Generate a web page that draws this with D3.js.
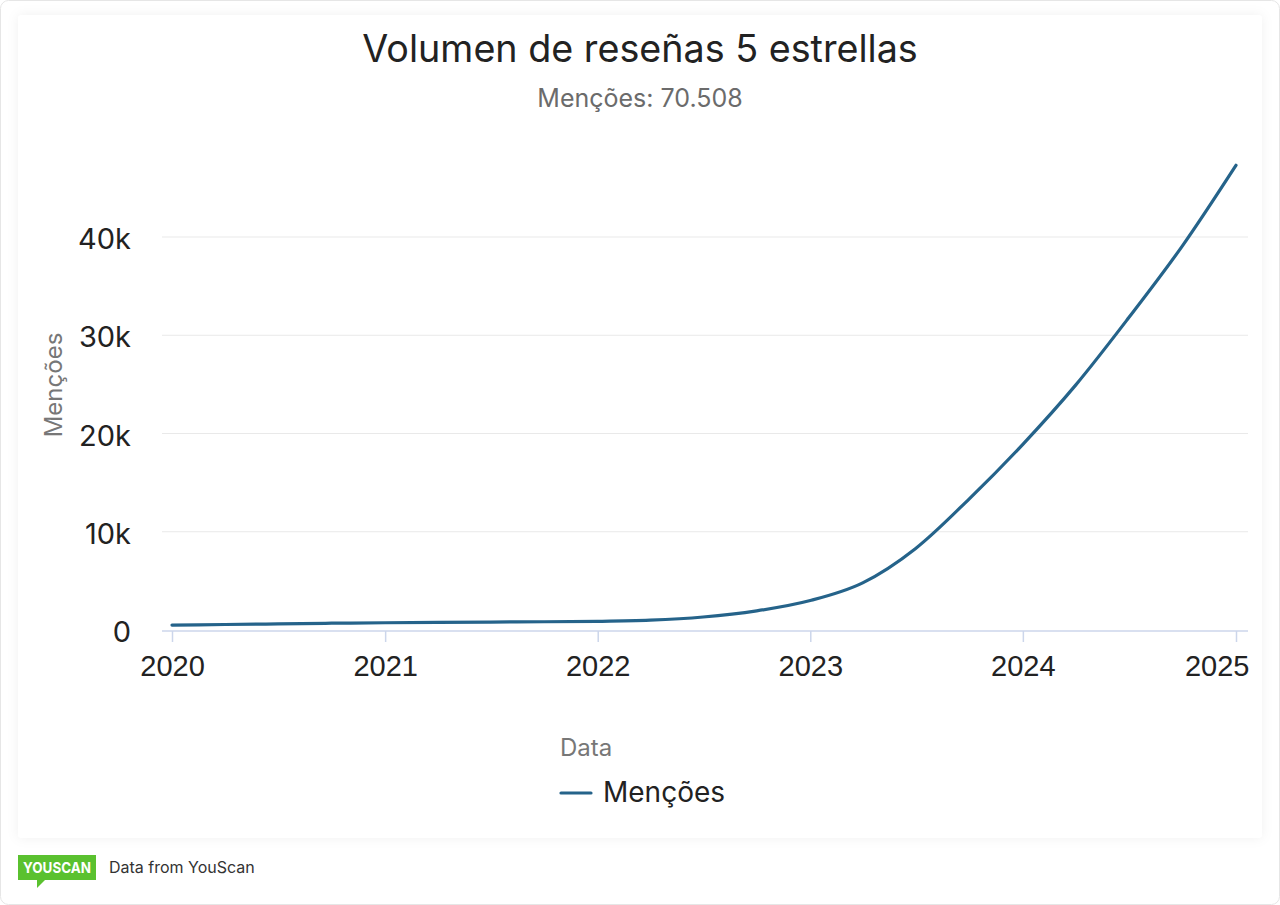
<!DOCTYPE html>
<meta charset="utf-8">
<style>
body { margin: 0; background: #fff; }
svg { display: block; font-family: Inter, "Liberation Sans", Arial, sans-serif; }
.grid line { stroke: #e9e9e9; stroke-width: 1; }
.xaxis path, .xaxis line { stroke: #ccd6eb; stroke-width: 1.5; }
.tickLabel { fill: #222; font-size: 29px; }
.axisTitle { fill: #777; font-size: 24px; }
.series { fill: none; stroke: #25638a; stroke-width: 3.2; stroke-linejoin: round; stroke-linecap: round; }
</style>
<body>
<svg width="1280" height="905" viewBox="0 0 1280 905"></svg>
<script src="https://d3js.org/d3.v7.min.js"></script>
<script>

// quarterly readings of the line
var dates = ["2020-01-01", "2020-04-01", "2020-07-01", "2020-10-01",
             "2021-01-01", "2021-04-01", "2021-07-01", "2021-10-01",
             "2022-01-01", "2022-04-01", "2022-07-01", "2022-10-01",
             "2023-01-01", "2023-04-01", "2023-07-01", "2023-10-01",
             "2024-01-01", "2024-04-01", "2024-07-01", "2024-10-01",
             "2025-01-01"];
var mentions = [500, 560, 620, 690,
                740, 780, 810, 840,
                880, 1000, 1320, 1950,
                3000, 4800, 8300, 13350,
                18900, 24950, 31800, 39100,
                47300];
var yTicks = [0, 10000, 20000, 30000, 40000];
var yearTicks = ["2020", "2021", "2022", "2023", "2024", "2025"];

var title = "Volumen de reseñas 5 estrellas",
    subtitle = "Menções: 70.508",
    seriesName = "Menções";

var svg = d3.select("svg"),
    parse = d3.timeParse("%Y-%m-%d"),
    data = dates.map((d, i) => ({ date: parse(d), value: mentions[i] }));

// page frame + card
svg.append("rect")
  .attr("x", 0.5).attr("y", 0.5).attr("width", 1279).attr("height", 904)
  .attr("rx", 8).attr("fill", "#fff").attr("stroke", "#e6e6e6");

var defs = svg.append("defs");
var shadow = defs.append("filter").attr("id", "shadow")
  .attr("x", "-5%").attr("y", "-5%").attr("width", "110%").attr("height", "110%");
shadow.append("feDropShadow").attr("dx", 0).attr("dy", 0).attr("stdDeviation", 6)
  .attr("flood-color", "#000").attr("flood-opacity", 0.06);

svg.append("rect")
  .attr("x", 18).attr("y", 15).attr("width", 1244).attr("height", 823)
  .attr("rx", 4).attr("fill", "#fff").attr("filter", "url(#shadow)");

var x = d3.scaleTime()
  .domain([parse("2020-01-01"), parse("2025-01-01")])
  .range([172, 1236]);

var y = d3.scaleLinear()
  .domain([0, 50000])
  .range([630, 138.75]);

var plotLeft = 162, plotRight = 1248;

// gridlines
svg.append("g").attr("class", "grid")
  .selectAll("line")
  .data(yTicks.slice(1))
  .join("line")
  .attr("x1", plotLeft).attr("x2", plotRight)
  .attr("y1", d => y(d)).attr("y2", d => y(d));

// y labels
svg.append("g")
  .selectAll("text")
  .data(yTicks)
  .join("text")
  .attr("class", "tickLabel")
  .attr("x", 131)
  .attr("y", d => y(d) + 12)
  .attr("text-anchor", "end")
  .text(d => d === 0 ? "0" : d3.format("d")(d / 1000) + "k");

// x axis
var xAxis = d3.axisBottom(x)
  .tickValues(yearTicks.map(d => parse(d + "-01-01")))
  .tickSize(11)
  .tickSizeOuter(0)
  .tickFormat(d3.timeFormat("%Y"));

var gx = svg.append("g").attr("class", "xaxis")
  .attr("transform", "translate(0,631)")
  .call(xAxis);
gx.select(".domain").attr("d", "M" + plotLeft + ",0H" + plotRight);
gx.selectAll("text")
  .attr("class", "tickLabel")
  .attr("fill", "#222")
  .attr("font-size", 29)
  .attr("font-family", null)
  .attr("dy", null)
  .attr("y", 45);
// last label is pulled inside the card, as in the original
gx.selectAll(".tick:last-of-type text")
  .attr("text-anchor", "end")
  .attr("x", 1249 - x(parse("2025-01-01")));

// series line
var line = d3.line()
  .x(d => x(d.date))
  .y(d => y(d.value))
  .curve(d3.curveMonotoneX);

svg.append("path")
  .datum(data)
  .attr("class", "series")
  .attr("d", line);

// titles
svg.append("text")
  .attr("x", 640).attr("y", 62)
  .attr("text-anchor", "middle")
  .attr("fill", "#222").attr("font-size", 37.7)
  .text(title);

svg.append("text")
  .attr("x", 640).attr("y", 107)
  .attr("text-anchor", "middle")
  .attr("fill", "#6b6b6b").attr("font-size", 25)
  .text(subtitle);

svg.append("text")
  .attr("class", "axisTitle")
  .attr("transform", "translate(62,385) rotate(-90)")
  .attr("text-anchor", "middle")
  .text(seriesName);

svg.append("text")
  .attr("class", "axisTitle")
  .attr("x", 586).attr("y", 756)
  .attr("font-size", 25)
  .attr("text-anchor", "middle")
  .text("Data");

// legend
svg.append("line")
  .attr("x1", 561).attr("x2", 591).attr("y1", 793).attr("y2", 793)
  .attr("stroke", "#25638a").attr("stroke-width", 3.2).attr("stroke-linecap", "round");
svg.append("text")
  .attr("x", 603).attr("y", 802)
  .attr("fill", "#222").attr("font-size", 28)
  .text(seriesName);

// footer logo
var logo = svg.append("g");
logo.append("rect")
  .attr("x", 18).attr("y", 855).attr("width", 78).attr("height", 25)
  .attr("fill", "#5ac12f");
logo.append("path")
  .attr("d", "M37,880 L37,888 L45,880 Z")
  .attr("fill", "#5ac12f");
logo.append("text")
  .attr("x", 57).attr("y", 873)
  .attr("text-anchor", "middle")
  .attr("fill", "#fff").attr("font-size", 15).attr("font-weight", "bold")
  .attr("textLength", 68).attr("lengthAdjust", "spacingAndGlyphs")
  .text("YOUSCAN");

svg.append("text")
  .attr("x", 109).attr("y", 873)
  .attr("fill", "#333").attr("font-size", 16)
  .text("Data from YouScan");

</script>
</body>
